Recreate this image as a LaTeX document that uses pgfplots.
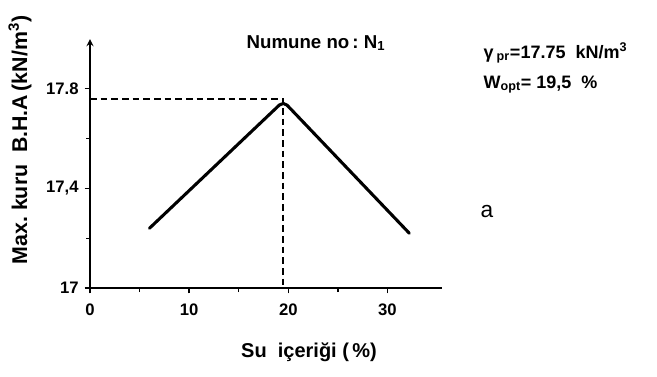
\documentclass[border=0pt]{standalone}
\usepackage{fontspec}
\setmainfont{Liberation Sans}
\usepackage{pgfplots}
\pgfplotsset{compat=1.18}

\begin{document}
\begin{tikzpicture}
% page frame: 657 x 376 px at 0.75pt per px
\useasboundingbox (0,0) rectangle (492.75pt,282pt);

\begin{axis}[
  at={(67.5pt,66pt)}, anchor=south west,
  scale only axis,
  width=264pt, height=186.75pt,
  xmin=0, xmax=35.5,
  ymin=17, ymax=18,
  axis x line=bottom,
  axis y line=left,
  x axis line style={-, line width=1.4pt},
  y axis line style={-stealth, line width=1.4pt},
  tick align=outside,
  major tick length=4pt,
  minor tick length=3pt,
  every tick/.style={black, line width=1pt},
  xtick={0,10,20,30},
  xticklabels={0,10,20,30},
  minor xtick={5,15,25},
  ytick={17,17.4,17.8},
  yticklabels={17,{17,4},17.8},
  minor ytick={17.2,17.6},
  tick label style={font=\bfseries\fontsize{12.5}{14}\selectfont},
  xticklabel style={yshift=-4pt},
  yticklabel style={xshift=-1pt},
  clip=false,
]
% compaction curve
\addplot[black, line width=2.3pt, line cap=round, line join=round, rounded corners=4pt]
  coordinates {(6,17.24) (19.5,17.75) (32.2,17.22)};
% optimum guide lines
\addplot[black, line width=1.3pt, dash pattern=on 5pt off 3pt]
  coordinates {(0,17.76) (19.5,17.76) (19.5,17)};
\end{axis}

% axis titles
\node[rotate=90, font=\bfseries\fontsize{16}{18}\selectfont] at (15pt,177pt)
  {Max.\ kuru\ \ B.H.A\,(kN/m\textsuperscript{3})};
\node[font=\bfseries\fontsize{15}{18}\selectfont] at (231.75pt,18pt)
  {Su\ \ içeriği (\,\%)};

% sample and results
\node[anchor=base, font=\bfseries\fontsize{14}{17}\selectfont] at (237pt,246pt)
  {Numune no\,:\ N\textsubscript{1}};
\node[anchor=base west, font=\bfseries\fontsize{13.5}{16}\selectfont] at (359.25pt,238.5pt)
  {γ\,\textsubscript{pr}=17.75\ \ kN/m\textsuperscript{3}};
\node[anchor=base west, font=\bfseries\fontsize{13.5}{16}\selectfont] at (359.25pt,216pt)
  {W\textsubscript{opt}= 19,5\ \ \%};
\node[font=\fontsize{17}{20}\selectfont] at (365.25pt,123pt) {a};
\end{tikzpicture}
\end{document}
